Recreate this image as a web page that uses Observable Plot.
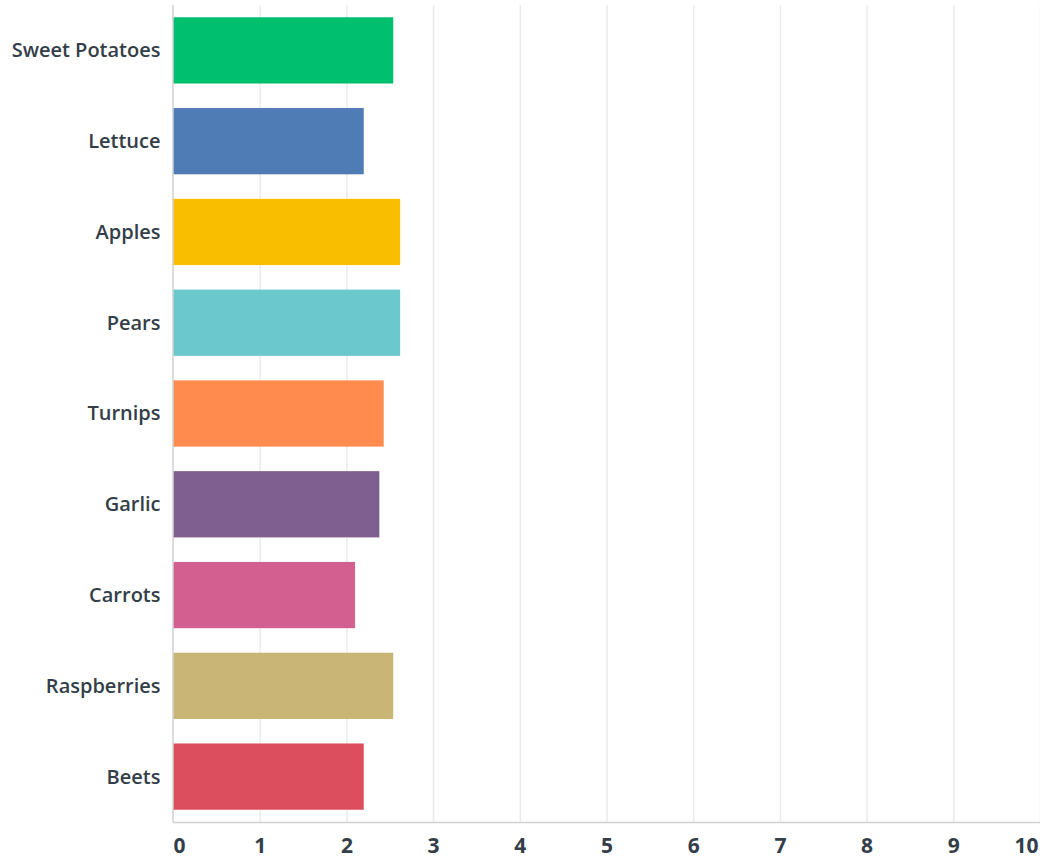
<!DOCTYPE html>
<html>
<head>
<meta charset="utf-8">
<script src="https://cdn.jsdelivr.net/npm/d3@7"></script>
<script src="https://cdn.jsdelivr.net/npm/@observablehq/plot@0.6"></script>
<style>
  html, body { margin: 0; padding: 0; background: #fff; }
  #chart svg { display: block; }
</style>
</head>
<body>
<div id="chart"></div>
<script>
const categories = ["Sweet Potatoes", "Lettuce", "Apples", "Pears", "Turnips", "Garlic", "Carrots", "Raspberries", "Beets"];
const values = [2.54, 2.20, 2.62, 2.62, 2.43, 2.38, 2.10, 2.54, 2.20];
const colors = ["#00bf6f", "#507cb6", "#f9be00", "#6bc8cd", "#ff8b4f", "#7f5f90", "#d25f90", "#c9b677", "#dc4e5d"];
const xTicks = [0, 1, 2, 3, 4, 5, 6, 7, 8, 9, 10];

const data = categories.map((c, i) => ({category: c, value: values[i]}));
const font = "'Open Sans', 'Noto Sans', sans-serif";
const fs = 20;
const xfs = 21;

const chart = Plot.plot({
  width: 1040,
  height: 867,
  marginTop: 5,
  marginBottom: 45,
  marginLeft: 173,
  marginRight: 0,
  style: {fontFamily: font, color: "#333e48", background: "#fff"},
  x: {domain: [0, 10], axis: null},
  y: {domain: categories, paddingInner: 0.27, paddingOuter: 0.135, round: false, axis: null},
  color: {domain: categories, range: colors},
  marks: [
    Plot.ruleX(xTicks.slice(1), {stroke: "#ebebeb", strokeWidth: 1.5}),
    Plot.barX(data, {y: "category", x: "value", fill: "category"}),
    Plot.ruleX([0], {stroke: "#d0d0d0", strokeWidth: 1.5, dx: -0.5}),
    Plot.frame({anchor: "bottom", stroke: "#d0d0d0", strokeWidth: 1.5}),
    Plot.axisY({label: null, tickSize: 0, tickPadding: 13, fontSize: fs, fontWeight: 600, fill: "#333e48"}),
    Plot.text(xTicks.filter(d => d === 0), {x: d => d, text: d => String(d), frameAnchor: "bottom", dy: 30, textAnchor: "start", fontSize: xfs, fontWeight: 700, fill: "#333e48"}),
    Plot.text(xTicks.filter(d => d > 0 && d < 10), {x: d => d, text: d => String(d), frameAnchor: "bottom", dy: 30, textAnchor: "middle", fontSize: xfs, fontWeight: 700, fill: "#333e48"}),
    Plot.text(xTicks.filter(d => d === 10), {x: d => d, text: d => String(d), frameAnchor: "bottom", dy: 30, dx: -2, textAnchor: "end", fontSize: xfs, fontWeight: 700, fill: "#333e48"})
  ]
});
document.getElementById("chart").appendChild(chart);
</script>
</body>
</html>
